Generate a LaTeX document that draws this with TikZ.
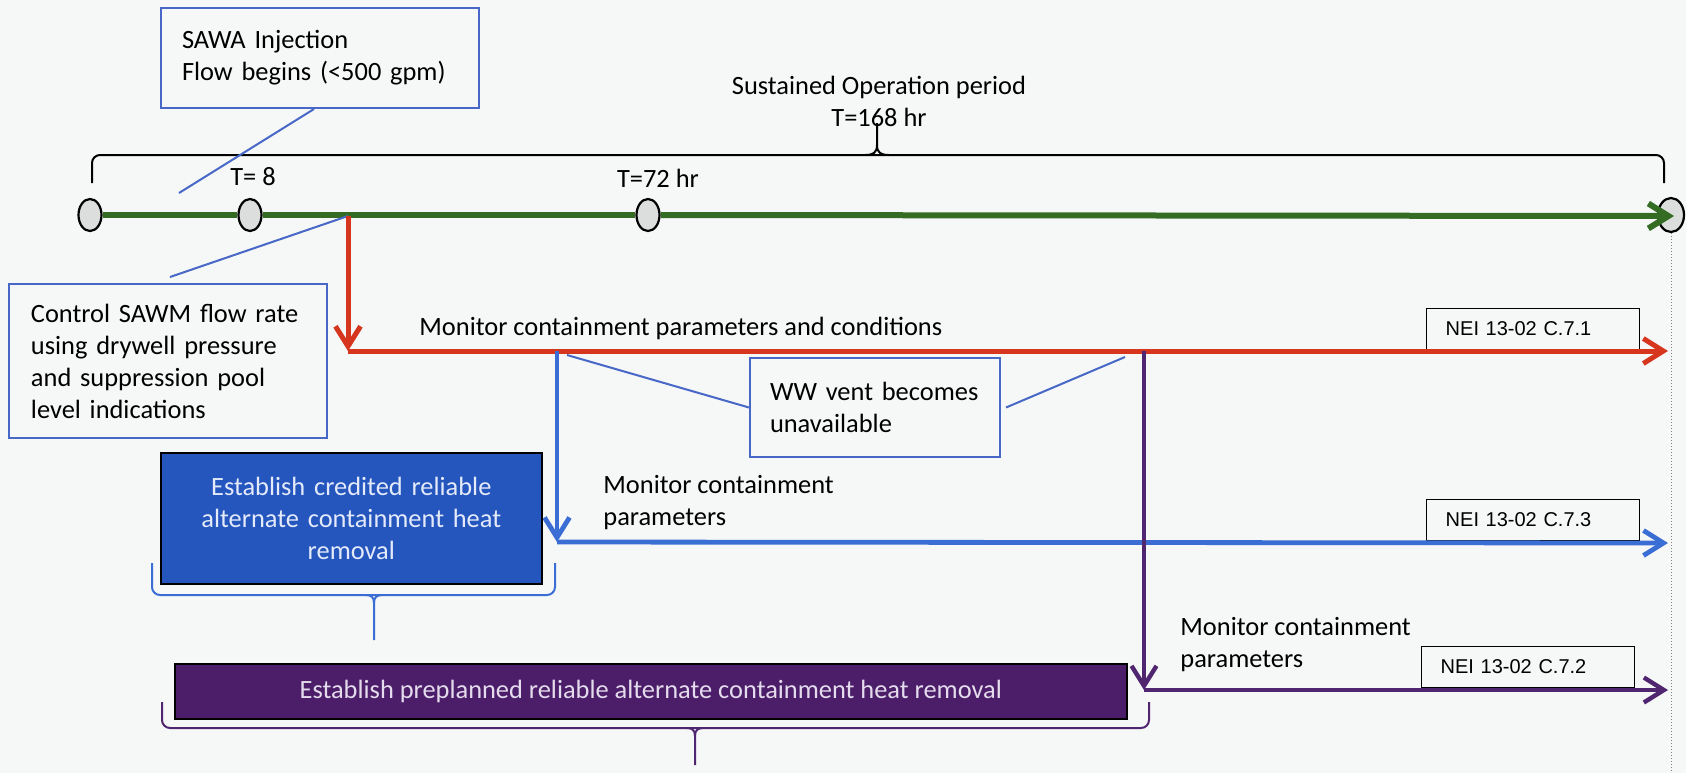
\documentclass[tikz,border=0pt]{standalone}
\usepackage{fontspec}
\setmainfont{Carlito}
\newfontfamily\arialfont{Liberation Sans}
\usetikzlibrary{arrows.meta,shapes.geometric}
\definecolor{gline}{RGB}{52,108,36}
\definecolor{rline}{RGB}{214,54,30}
\definecolor{bline}{RGB}{58,110,212}
\definecolor{pline}{RGB}{80,38,112}
\definecolor{cline}{RGB}{72,104,200}
\definecolor{bfill}{RGB}{36,86,190}
\definecolor{pfill}{RGB}{76,30,106}
\definecolor{circfill}{RGB}{220,222,222}
\definecolor{bgc}{RGB}{246,247,247}
\definecolor{boxtxt}{RGB}{228,234,250}
\definecolor{ptxt}{RGB}{228,220,236}
\begin{document}
\begin{tikzpicture}[x=0.5pt,y=-0.5pt,
  font=\fontsize{13.2}{16}\selectfont,
  callbox/.style={draw=cline, line width=1pt, anchor=north west, align=left, inner ysep=0pt},
  milestone/.style={ellipse, draw=black, line width=1.1pt, fill=circfill, minimum width=11.5pt, minimum height=16pt, inner sep=0pt},
  neibox/.style={draw=black, line width=0.7pt, anchor=south west, font=\arialfont\fontsize{10}{12}\selectfont, minimum height=20.5pt, inner xsep=9.5pt, inner ysep=0pt, text width=87.5pt, align=left},
  lbl/.style={inner sep=0pt, align=left},
  arr/.style={-{Straight Barb[length=10pt,width=12.5pt]}},
  greenline/.style={draw=gline, line width=3pt},
  redline/.style={draw=rline, line width=2.5pt},
  blueline/.style={draw=bline, line width=2.4pt},
  purpline/.style={draw=pline, line width=2.2pt},
  callout/.style={draw=cline, line width=1pt},
  brace/.style={line width=1pt, rounded corners=4pt},
  stem/.style={line width=1pt}
]
\fill[bgc] (0,0) rectangle (1686,773);
\useasboundingbox (0,0) rectangle (1686,773);

% --- texts on top
\node[lbl, align=center] (sust) at (879,101) {Sustained Operation period\\T=168 hr};
\node[lbl] (t8) at (253,177) {T= 8};
\node[lbl] (t72) at (658,178) {T=72 hr};

% --- top brace
\draw[brace] (92,183) -- (92,155) -- (1664,155) -- (1664,183);
\draw[stem] (865,155) .. controls (873,155) and (877,153) .. (877,145) -- (877,123);
\draw[stem] (889,155) .. controls (881,155) and (877,153) .. (877,145);

% --- milestones
\node[milestone] (m1) at (90,215) {};
\node[milestone] (m2) at (250,215) {};
\node[milestone] (m3) at (648,215) {};
\node[milestone, minimum width=13pt, minimum height=17pt] (m4) at (1671,215) {};
\coordinate (gEnd) at (1674,216);
\coordinate (j1) at (348,216);
\draw[greenline] (m1.east) -- (m2.west);
\draw[greenline] (m2.east) -- (m3.west);
\draw[greenline, arr] (m3.east) -- (gEnd);
\coordinate (dotEnd) at (1671,773);
\draw[gray, line width=0.5pt, densely dotted] (m4.south) -- (dotEnd);

% --- callout boxes
\node[callbox, minimum width=159pt, minimum height=50pt, inner xsep=10.5pt, text width=138pt] (sawa) at (160,7) {SAWA Injection\\Flow begins (<500 gpm)};
\node[callbox, minimum width=159pt, minimum height=77pt, inner xsep=11pt, text width=137pt] (ctl) at (8,283) {Control SAWM flow rate\\using drywell pressure\\and suppression pool\\level indications};
\node[callbox, minimum width=125pt, minimum height=49.5pt, inner xsep=10pt, text width=105pt] (ww) at (749,357) {WW vent becomes\\unavailable\\[9pt]};

\coordinate (sawaEnd) at (179,193);
\coordinate (ctlEnd) at (170,277);
\coordinate (wwL) at (567,355);
\coordinate (wwR) at (1125,357);
\draw[callout] ([xshift=77pt]sawa.south west) -- (sawaEnd);
\draw[callout] (j1) -- (ctlEnd);
\draw[callout] (wwL) -- (ww.west);
\draw[callout] ([xshift=2.5pt]ww.east) -- (wwR);

% --- red branch
\coordinate (r1) at (348,351);
\coordinate (rEnd) at (1668,351);
\node[neibox] (nei1) at (1426,350) {NEI 13-02 C.7.1};
\draw[redline, arr] (j1) -- (r1);
\draw[redline, arr] (r1) -- (rEnd);
\node[lbl, anchor=west] (mon1) at (419,328) {Monitor containment parameters and conditions};

% --- blue branch
\coordinate (b0) at (557,351);
\coordinate (b1) at (557,542);
\coordinate (bEnd) at (1668,543);
\node[neibox] (nei3) at (1426,541) {NEI 13-02 C.7.3};
\draw[blueline, arr] (b0) -- (b1);
\draw[blueline, arr] (b1) -- (bEnd);
\node[lbl, anchor=west] (mon2) at (603,503) {Monitor containment\\parameters};

% --- purple branch
\coordinate (p0) at (1144,351);
\coordinate (p1) at (1144,690);
\coordinate (pEnd) at (1668,690);
\node[neibox] (nei2) at (1421,688) {NEI 13-02 C.7.2};
\draw[purpline, arr] (p0) -- (p1);
\draw[purpline, arr] (p1) -- (pEnd);
\node[lbl, anchor=west] (mon3) at (1180,645) {Monitor containment\\parameters};

% --- action boxes
\node[draw=black, line width=0.8pt, fill=bfill, text=boxtxt, anchor=north west, minimum width=190.5pt, minimum height=65.5pt, text width=180pt, align=center, inner sep=0pt] (credit) at (160,452) {Establish credited reliable\\alternate containment heat\\removal\\[11pt]};
\node[draw=black, line width=0.8pt, fill=pfill, text=ptxt, anchor=north west, minimum width=476pt, minimum height=27.5pt, align=center, inner sep=0pt] (preplan) at (174,663) {Establish preplanned reliable alternate containment heat removal};

% --- lower braces
\draw[brace, bline] (152,563) -- (152,595) -- (555,595) -- (555,563);
\draw[stem, bline] (366,595) .. controls (371,595) and (374,597) .. (374,603) -- (374,640);
\draw[stem, bline] (382,595) .. controls (377,595) and (374,597) .. (374,603);
\draw[brace, pline] (162,702) -- (162,728) -- (1149,728) -- (1149,702);
\draw[stem, pline] (687,728) .. controls (692,728) and (695,730) .. (695,736) -- (695,765);
\draw[stem, pline] (703,728) .. controls (698,728) and (695,730) .. (695,736);
\end{tikzpicture}
\end{document}
